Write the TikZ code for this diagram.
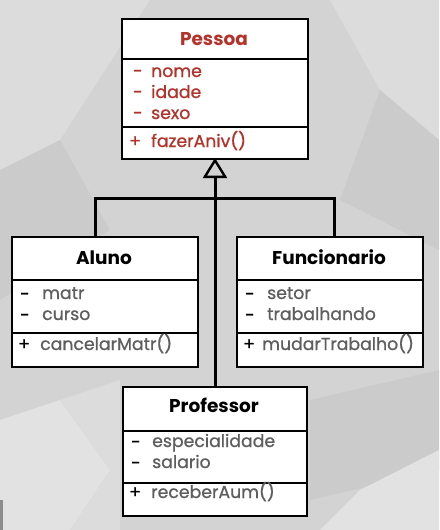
\documentclass[tikz,border=0pt]{standalone}
\usepackage{fontspec}
\setmainfont{Poppins}
\newfontfamily\memberfont{Poppins}[RawFeature={embolden=0.9}]
\newfontfamily\titlefont{Poppins}
\usetikzlibrary{arrows.meta}
\definecolor{bgbase}{HTML}{D3D3D3}
\definecolor{bglight}{HTML}{DCDCDC}
\definecolor{bglighter}{HTML}{E2E2E2}
\definecolor{bgdark}{HTML}{CBCBCB}
\definecolor{attrred}{HTML}{B3332B}
\definecolor{attrgrey}{HTML}{5E5E5E}
\tikzset{
  classbox/.style={draw=black, line width=2pt, fill=white, inner sep=0pt, anchor=north west},
  divider/.style={draw=black, line width=1.6pt},
  conn/.style={draw=black, line width=3pt},
  title/.style={font=\titlefont\bfseries\fontsize{18.5}{22}\selectfont, anchor=base, inner sep=0pt},
  vis/.style={font=\memberfont\fontsize{17.3}{20}\selectfont, anchor=base west, inner sep=0pt},
  member/.style={font=\memberfont\fontsize{17.3}{20}\selectfont, anchor=base west, inner sep=0pt},
}
\begin{document}
\begin{tikzpicture}[x=1pt,y=-1pt]
\useasboundingbox (0,0) rectangle (439,530);
% low-poly backdrop
\fill[bgbase] (0,0) rectangle (439,530);
\fill[bglight] (0,0) -- (150,0) -- (60,140) -- (0,170) -- cycle;
\fill[bgdark] (0,170) -- (60,140) -- (110,230) -- (0,300) -- cycle;
\fill[bglight] (330,0) -- (439,0) -- (439,140) -- (380,90) -- cycle;
\fill[bgdark] (380,90) -- (439,140) -- (439,250) -- (340,200) -- cycle;
\fill[bglighter] (0,420) -- (60,400) -- (110,470) -- (70,530) -- (0,530) -- cycle;
\fill[bglight] (60,400) -- (120,380) -- (120,530) -- (70,530) -- (110,470) -- cycle;
\fill[bgdark] (310,400) -- (439,370) -- (439,470) -- (310,500) -- cycle;
\fill[bglighter] (360,490) -- (439,450) -- (439,530) -- (320,530) -- cycle;
\fill[black!45] (0,500) rectangle (3,530);

% class boxes
\node[classbox, minimum width=186pt, minimum height=140pt] (pessoa) at (121,18) {};
\node[classbox, minimum width=186pt, minimum height=130pt] (aluno) at (11,236) {};
\node[classbox, minimum width=186pt, minimum height=130pt] (func) at (236,236) {};
\node[classbox, minimum width=184pt, minimum height=129pt] (prof) at (122,386) {};

% compartment dividers
\draw[divider] (pessoa.west |- 0,59) -- (pessoa.east |- 0,59);
\draw[divider] (pessoa.west |- 0,127) -- (pessoa.east |- 0,127);
\draw[divider] (aluno.west |- 0,280) -- (aluno.east |- 0,280);
\draw[divider] (aluno.west |- 0,333) -- (aluno.east |- 0,333);
\draw[divider] (func.west |- 0,280) -- (func.east |- 0,280);
\draw[divider] (func.west |- 0,333) -- (func.east |- 0,333);
\draw[divider] (prof.west |- 0,431) -- (prof.east |- 0,431);
\draw[divider] (prof.west |- 0,483) -- (prof.east |- 0,483);

% Pessoa
\node[title, text=attrred] (pt) at (214,45) {Pessoa};
\begin{scope}[every node/.append style={text=attrred}]
\node[vis] (pv1) at (133,77) {-};
\node[member] (pm1) at (151,77) {nome};
\node[vis] (pv2) at (133,98) {-};
\node[member] (pm2) at (151,98) {idade};
\node[vis] (pv3) at (133,119) {-};
\node[member] (pm3) at (151,119) {sexo};
\node[vis] (pv4) at (129,147) {+};
\node[member] (pm4) at (151,147) {fazerAniv()};
\end{scope}

% Aluno
\node[title] (at) at (104,264) {Aluno};
\node[vis] (av1) at (20,300) {-};
\node[member, text=attrgrey] (am1) at (42,299) {matr};
\node[vis] (av2) at (20,321) {-};
\node[member, text=attrgrey] (am2) at (42,320) {curso};
\node[vis] (av3) at (18,350) {+};
\node[member, text=attrgrey] (am3) at (40,350) {cancelarMatr()};

% Funcionario
\node[title] (ft) at (329,264) {Funcionario};
\node[vis] (fv1) at (245,300) {-};
\node[member, text=attrgrey] (fm1) at (267,299) {setor};
\node[vis] (fv2) at (245,321) {-};
\node[member, text=attrgrey] (fm2) at (267,320) {trabalhando};
\node[vis] (fv3) at (243,350) {+};
\node[member, text=attrgrey] (fm3) at (262,350) {mudarTrabalho()};

% Professor
\node[title] (prt) at (214,412) {Professor};
\node[vis] (rv1) at (131,448) {-};
\node[member, text=attrgrey] (rm1) at (152,447) {especialidade};
\node[vis] (rv2) at (131,469) {-};
\node[member, text=attrgrey] (rm2) at (152,468) {salario};
\node[vis] (rv3) at (129,498) {+};
\node[member, text=attrgrey] (rm3) at (151,498) {receberAum()};

% generalisation connectors
\coordinate (bar) at (214,198);
\draw[conn] ([xshift=-10pt]aluno.north) |- (bar) -| ([xshift=4pt]func.north);
\draw[conn, -{Triangle[open, length=20pt, width=24pt, line width=2.4pt]}] (prof.north) -- ([yshift=2pt]pessoa.south);
\end{tikzpicture}
\end{document}
